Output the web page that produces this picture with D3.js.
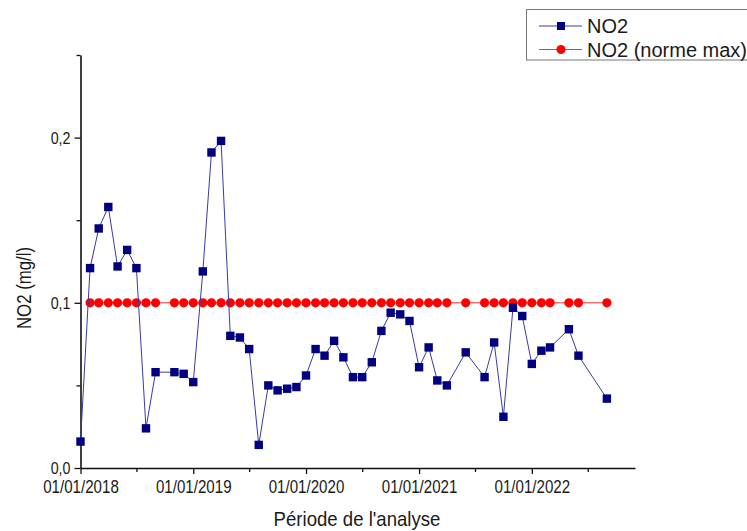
<!DOCTYPE html>
<html>
<head>
<meta charset="utf-8">
<script src="https://cdn.jsdelivr.net/npm/d3@7"></script>
<style>
  body { margin: 0; background: #fff; }
  text { font-family: "Liberation Sans", Arial, sans-serif; fill: #1a1a1a; }
</style>
</head>
<body>
<svg id="chart" width="747" height="531"></svg>
<script>
// Monthly NO2 measurements (mg/l)
const no2Dates = [
  "2018-01-01","2018-02-01","2018-03-01","2018-04-01","2018-05-01","2018-06-01","2018-07-01","2018-08-01","2018-09-01",
  "2018-11-01","2018-12-01",
  "2019-01-01","2019-02-01","2019-03-01","2019-04-01","2019-05-01","2019-06-01","2019-07-01","2019-08-01","2019-09-01","2019-10-01","2019-11-01","2019-12-01",
  "2020-01-01","2020-02-01","2020-03-01","2020-04-01","2020-05-01","2020-06-01","2020-07-01","2020-08-01","2020-09-01","2020-10-01","2020-11-01","2020-12-01",
  "2021-01-01","2021-02-01","2021-03-01","2021-04-01","2021-06-01","2021-08-01","2021-09-01","2021-10-01","2021-11-01","2021-12-01",
  "2022-01-01","2022-02-01","2022-03-01","2022-05-01","2022-06-01","2022-09-01"
];
const no2Values = [
  0.016, 0.121, 0.145, 0.158, 0.122, 0.132, 0.121, 0.024, 0.058,
  0.058, 0.057,
  0.052, 0.119, 0.191, 0.198, 0.080, 0.079, 0.072, 0.014, 0.050, 0.047, 0.048, 0.049,
  0.056, 0.072, 0.068, 0.077, 0.067, 0.055, 0.055, 0.064, 0.083, 0.094, 0.093, 0.089,
  0.061, 0.073, 0.053, 0.050, 0.070, 0.055, 0.076, 0.031, 0.097, 0.092,
  0.063, 0.071, 0.073, 0.084, 0.068, 0.042
];

// Maximum allowed NO2 level
const normDates = [
  "2018-02-01","2018-03-01","2018-04-01","2018-05-01","2018-06-01","2018-07-01","2018-08-01","2018-09-01",
  "2018-11-01","2018-12-01",
  "2019-01-01","2019-02-01","2019-03-01","2019-04-01","2019-05-01","2019-06-01","2019-07-01","2019-08-01","2019-09-01","2019-10-01","2019-11-01","2019-12-01",
  "2020-01-01","2020-02-01","2020-03-01","2020-04-01","2020-05-01","2020-06-01","2020-07-01","2020-08-01","2020-09-01","2020-10-01","2020-11-01","2020-12-01",
  "2021-01-01","2021-02-01","2021-03-01","2021-04-01","2021-06-01","2021-08-01","2021-09-01","2021-10-01","2021-11-01","2021-12-01",
  "2022-01-01","2022-02-01","2022-03-01","2022-05-01","2022-06-01","2022-09-01"
];
const normValues = [
  0.1, 0.1, 0.1, 0.1, 0.1, 0.1, 0.1, 0.1,
  0.1, 0.1,
  0.1, 0.1, 0.1, 0.1, 0.1, 0.1, 0.1, 0.1, 0.1, 0.1, 0.1, 0.1,
  0.1, 0.1, 0.1, 0.1, 0.1, 0.1, 0.1, 0.1, 0.1, 0.1, 0.1, 0.1,
  0.1, 0.1, 0.1, 0.1, 0.1, 0.1, 0.1, 0.1, 0.1, 0.1,
  0.1, 0.1, 0.1, 0.1, 0.1, 0.1
];

const xDomain = ["2018-01-01", "2022-12-01"];
const xMajorTicks = ["2018-01-01","2019-01-01","2020-01-01","2021-01-01","2022-01-01"];
const xMinorTicks = ["2018-07-01","2019-07-01","2020-07-01","2021-07-01","2022-07-01"];
const yDomain = [0, 0.25];
const yMajorTicks = [0, 0.1, 0.2];
const yMinorTicks = [0.05, 0.15, 0.25];

const seriesLabels = ["NO2", "NO2 (norme max)"];
const xTitle = "Période de l'analyse";
const yTitle = "NO2 (mg/l)";

const parse = d3.timeParse("%Y-%m-%d");
const svg = d3.select("#chart");

const x = d3.scaleTime().domain(xDomain.map(parse)).range([80.5, 635]);
const y = d3.scaleLinear().domain(yDomain).range([468, 55]);

const fr = d3.formatLocale({ decimal: ",", thousands: " ", grouping: [3], currency: ["", " €"] });
const yFmt = fr.format(".1f");
const xFmt = d3.timeFormat("%d/%m/%Y");

const narrow = 0.84;

// Axes
const gx = svg.append("g").attr("transform", "translate(0,468)");
gx.call(d3.axisBottom(x).tickValues(xMajorTicks.map(parse)).tickFormat(xFmt)
  .tickSizeInner(6).tickSizeOuter(0).tickPadding(6));
gx.append("g").call(d3.axisBottom(x).tickValues(xMinorTicks.map(parse)).tickFormat("")
  .tickSizeInner(4).tickSizeOuter(0)).select(".domain").remove();
gx.selectAll(".tick text")
  .attr("font-size", 18).attr("font-family", "Liberation Sans, Arial, sans-serif")
  .attr("fill", "#1a1a1a").attr("transform", `scale(${narrow},1)`);

const gy = svg.append("g").attr("transform", "translate(80.5,0)");
gy.call(d3.axisLeft(y).tickValues(yMajorTicks).tickFormat(yFmt)
  .tickSizeInner(6).tickSizeOuter(0).tickPadding(4));
gy.append("g").call(d3.axisLeft(y).tickValues(yMinorTicks).tickFormat("")
  .tickSizeInner(4).tickSizeOuter(0)).select(".domain").remove();
gy.selectAll(".tick text")
  .attr("font-size", 17).attr("font-family", "Liberation Sans, Arial, sans-serif")
  .attr("fill", "#1a1a1a");
gy.selectAll(".tick").each(function() {
  const t = d3.select(this).select("text");
  if (!t.empty()) t.attr("transform", `translate(-10,0) scale(${narrow},1) translate(10,0)`);
});

svg.selectAll(".domain").attr("stroke", "#111").attr("stroke-width", 1.6);
svg.selectAll(".tick line").attr("stroke", "#111").attr("stroke-width", 1.3);

// Series: norm line + circles
const normData = normDates.map((d, i) => ({ date: parse(d), value: normValues[i] }));
const no2Data = no2Dates.map((d, i) => ({ date: parse(d), value: no2Values[i] }));

const line = d3.line().x(d => x(d.date)).y(d => y(d.value));

svg.append("path").datum(normData)
  .attr("d", line).attr("fill", "none").attr("stroke", "#ff3030").attr("stroke-width", 1);
svg.append("g").selectAll("circle").data(normData).join("circle")
  .attr("cx", d => x(d.date)).attr("cy", d => y(d.value)).attr("r", 4.6)
  .attr("fill", "#ff0000");

svg.append("path").datum(no2Data)
  .attr("d", line).attr("fill", "none").attr("stroke", "#3a3aa0").attr("stroke-width", 1);
svg.append("g").selectAll("rect").data(no2Data).join("rect")
  .attr("x", d => x(d.date) - 4.2).attr("y", d => y(d.value) - 4.2)
  .attr("width", 8.4).attr("height", 8.4).attr("fill", "#000080");

// Axis titles
svg.append("text")
  .attr("transform", `translate(357,526) scale(0.93,1)`)
  .attr("text-anchor", "middle").attr("font-size", 20).text(xTitle);
svg.append("text")
  .attr("transform", `translate(31,288) rotate(-90) scale(0.84,1)`)
  .attr("text-anchor", "middle").attr("font-size", 20).text(yTitle);

// Legend
const lg = svg.append("g");
lg.append("rect").attr("x", 526.5).attr("y", 9.5).attr("width", 240).attr("height", 50.5)
  .attr("fill", "#fff").attr("stroke", "#777").attr("stroke-width", 1);
const legendRows = [
  { label: seriesLabels[0], color: "#3a3aa0", fill: "#000080", shape: "square", cy: 26 },
  { label: seriesLabels[1], color: "#ff3030", fill: "#ff0000", shape: "circle", cy: 49.5 }
];
legendRows.forEach(r => {
  lg.append("line").attr("x1", 539).attr("x2", 582).attr("y1", r.cy).attr("y2", r.cy)
    .attr("stroke", r.color).attr("stroke-width", 1);
  if (r.shape === "square") {
    lg.append("rect").attr("x", 561 - 4).attr("y", r.cy - 4).attr("width", 8).attr("height", 8).attr("fill", r.fill);
  } else {
    lg.append("circle").attr("cx", 561).attr("cy", r.cy).attr("r", 4.5).attr("fill", r.fill);
  }
  lg.append("text").attr("x", 587).attr("y", r.cy + 7).attr("font-size", 20).text(r.label);
});
</script>
</body>
</html>
